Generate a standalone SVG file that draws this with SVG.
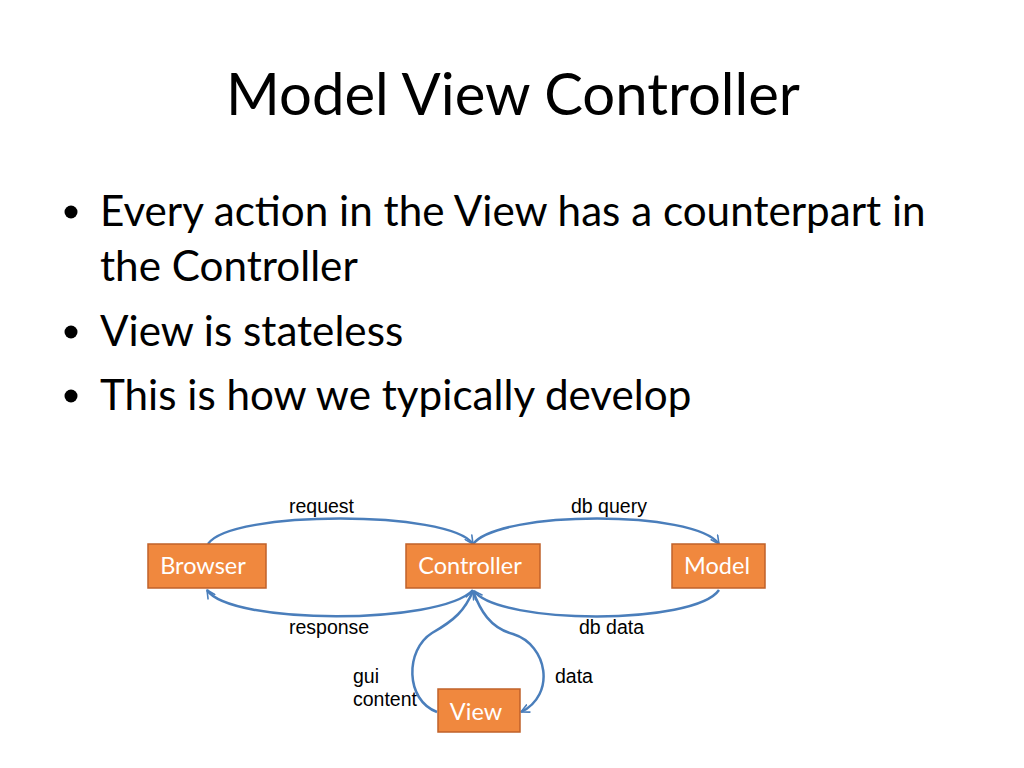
<svg xmlns="http://www.w3.org/2000/svg" width="1024" height="768" viewBox="0 0 1024 768">
<defs>
<style>
.title{font-family:"Lato","Open Sans",sans-serif;font-size:58px;fill:#000}
.bul{font-family:"Lato","Open Sans",sans-serif;font-size:42.2px;fill:#000}
.box{fill:#F0883E;stroke:#C0612A;stroke-width:1.5}
.bt{font-family:"Lato","Open Sans",sans-serif;font-size:23.5px;fill:#fff;text-anchor:middle}
.lbl{font-family:"Liberation Sans",Arial,sans-serif;font-size:19.5px;fill:#000}
.con{fill:none;stroke:#4A7EBB;stroke-width:2.5}
</style>
<marker id="ah" viewBox="0 0 10 10" refX="9" refY="5" markerWidth="4" markerHeight="4" orient="auto" markerUnits="strokeWidth">
<path d="M1,1 L9,5 L1,9" fill="none" stroke="#4A7EBB" stroke-width="1.6" stroke-linecap="round" stroke-linejoin="round"/>
</marker>
</defs>
<rect width="1024" height="768" fill="#fff"/>
<text class="title" x="513" y="115" text-anchor="middle">Model View Controller</text>
<g id="bullets">
<circle cx="71" cy="212" r="6.5" fill="#000"/>
<circle cx="71" cy="332" r="6.5" fill="#000"/>
<circle cx="71" cy="396" r="6.5" fill="#000"/>
<text class="bul" x="100" y="226">Every action in the View has a counterpart in</text>
<text class="bul" x="100" y="281">the Controller</text>
<text class="bul" x="100" y="346">View is stateless</text>
<text class="bul" x="100" y="410">This is how we typically develop</text>
</g>
<g id="connectors">
<path class="con" marker-end="url(#ah)" d="M208,544 C230,510 450,510 473,544"/>
<path class="con" marker-end="url(#ah)" d="M473,544 C500,510 695,510 719,544"/>
<path class="con" marker-end="url(#ah)" d="M473,590 C440,625 230,625 207,590"/>
<path class="con" marker-end="url(#ah)" d="M719,590 C695,625 500,625 474,591"/>
<path class="con" marker-end="url(#ah)" d="M437,712 C405,700 405,650 432,633 C455,620 465,610 473,591"/>
<path class="con" marker-end="url(#ah)" d="M473,591 C480,610 490,628 513,634 C548,645 556,695 521,712"/>
<text class="lbl" x="289" y="513">request</text>
<text class="lbl" x="571" y="513">db query</text>
<text class="lbl" x="289" y="634">response</text>
<text class="lbl" x="579" y="634">db data</text>
<text class="lbl" x="353" y="683">gui</text>
<text class="lbl" x="353" y="706">content</text>
<text class="lbl" x="555" y="683">data</text>
</g>
<g id="browser"><rect class="box" x="148" y="544" width="118" height="44"/><text class="bt" x="203" y="574">Browser</text></g>
<g id="controller"><rect class="box" x="406" y="544" width="134" height="44"/><text class="bt" x="470" y="574">Controller</text></g>
<g id="model"><rect class="box" x="672" y="544" width="93" height="44"/><text class="bt" x="717" y="574">Model</text></g>
<g id="view"><rect class="box" x="438" y="689" width="82" height="43"/><text class="bt" x="476" y="720">View</text></g>
</svg>
